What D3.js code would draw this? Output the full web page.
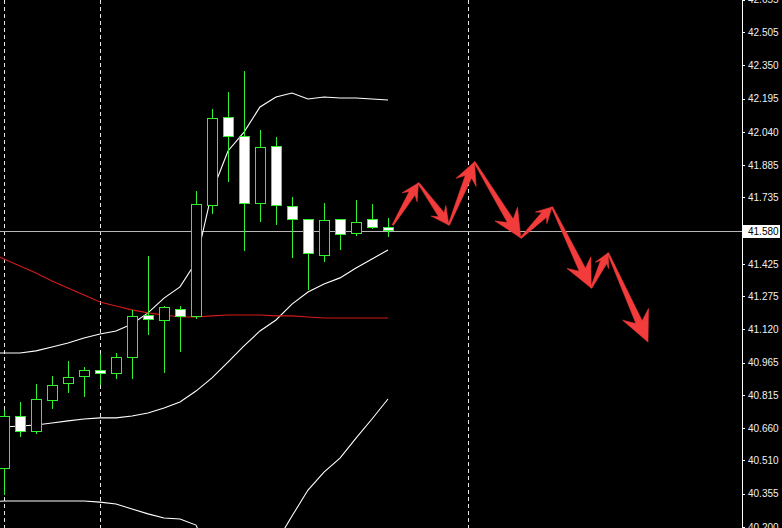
<!DOCTYPE html>
<html><head><meta charset="utf-8">
<script src="https://cdn.jsdelivr.net/npm/d3@7/dist/d3.min.js"></script>
<style>html,body{margin:0;padding:0;background:#000;overflow:hidden}svg{display:block}</style>
</head><body>
<svg id="chart" width="782" height="528"></svg>
<script>
// ---- data ----
const openP  = [40.475,40.717,40.647,40.791,40.871,40.903,40.931,40.917,40.992,41.187,41.164,41.215,41.183,41.699,42.109,42.021,41.709,41.974,41.695,41.634,41.467,41.634,41.569,41.634,41.597];
const highP  = [40.745,40.782,40.866,40.903,40.973,40.945,41.006,41.010,41.211,41.462,41.229,41.229,41.765,42.146,42.226,42.323,42.049,42.016,41.737,41.634,41.709,41.634,41.723,41.704,41.639];
const lowP   = [40.349,40.619,40.633,40.750,40.824,40.805,40.861,40.889,40.889,41.094,40.917,41.015,41.169,41.658,41.807,41.485,41.620,41.606,41.453,41.304,41.434,41.490,41.555,41.588,41.550];
const closeP = [40.717,40.647,40.796,40.861,40.899,40.931,40.917,40.992,41.183,41.169,41.224,41.183,41.704,42.105,42.021,41.709,41.970,41.699,41.634,41.476,41.630,41.564,41.620,41.597,41.583];
// indicator values, first value belongs to bar index -1
const upperBand  = [41.010,41.010,41.010,41.020,41.038,41.057,41.080,41.099,41.113,41.145,41.197,41.266,41.318,41.434,41.760,41.951,42.039,42.156,42.202,42.221,42.193,42.202,42.198,42.198,42.193,42.188];
const middleBand = [40.661,40.666,40.670,40.675,40.684,40.694,40.703,40.708,40.708,40.717,40.731,40.754,40.782,40.833,40.894,40.968,41.043,41.113,41.164,41.238,41.294,41.332,41.360,41.406,41.448,41.490];
const lowerBand  = [40.316,40.321,40.321,40.321,40.321,40.321,40.321,40.316,40.307,40.284,40.261,40.242,40.237,40.209,40.046,39.990,40.046,40.074,40.126,40.251,40.372,40.456,40.521,40.614,40.703,40.796];
const maRed      = [41.481,41.448,41.415,41.383,41.346,41.313,41.280,41.248,41.229,41.211,41.197,41.187,41.178,41.178,41.183,41.187,41.187,41.187,41.183,41.183,41.178,41.173,41.173,41.173,41.173,41.173];
const tickLabels = ["42.655","42.505","42.350","42.195","42.040","41.885","41.735","41.580","41.425","41.275","41.120","40.965","40.815","40.660","40.510","40.355","40.200"];
const currentPrice = 41.580;
const gridBars = [0, 6, 29];
// forecast zig-zag (bar index, price)
const arrowIdx   = [24.3, 25.9, 27.8, 29.4, 32.3, 34.25, 36.7, 37.75, 40.25];
const arrowPrice = [41.606, 41.802, 41.606, 41.900, 41.546, 41.690, 41.313, 41.476, 41.061];

// ---- layout ----
const W = 782, H = 528, axisX = 742;
const svg = d3.select("#chart");
svg.append("rect").attr("width", W).attr("height", H).attr("fill", "#000");

const x = d3.scaleLinear().domain([0, 40]).range([4, 644]);
const y = d3.scaleLinear().domain([40.200, 42.505]).range([527, 32]);

const plot = svg.append("g");
plot.append("clipPath").attr("id", "clip").append("rect").attr("width", axisX).attr("height", H);
const g = plot.append("g").attr("clip-path", "url(#clip)");

// vertical dashed separators
g.selectAll("line.grid").data(gridBars).join("line")
  .attr("x1", d => Math.round(x(d)) + 0.5).attr("x2", d => Math.round(x(d)) + 0.5)
  .attr("y1", 0).attr("y2", H)
  .attr("stroke", "#e8e8e8").attr("stroke-width", 1).attr("stroke-dasharray", "4,3")
  .attr("shape-rendering", "crispEdges");

// current price line
g.append("line")
  .attr("x1", 0).attr("x2", axisX)
  .attr("y1", Math.round(y(currentPrice)) + 0.5).attr("y2", Math.round(y(currentPrice)) + 0.5)
  .attr("stroke", "#b8b8b8").attr("stroke-width", 1).attr("shape-rendering", "crispEdges");

// indicator lines
const lineGen = d3.line().x((d, i) => x(i - 1)).y(d => y(d));
[[upperBand, "#ffffff"], [middleBand, "#ffffff"], [lowerBand, "#ffffff"], [maRed, "#d41a1a"]].forEach(([arr, col]) => {
  g.append("path").datum(arr).attr("d", lineGen)
    .attr("fill", "none").attr("stroke", col).attr("stroke-width", 1.1);
});

// candles
const green = "#33f033";
const bars = d3.range(openP.length).map(i => ({i, o: openP[i], h: highP[i], l: lowP[i], c: closeP[i]}));
const cg = g.append("g").attr("shape-rendering", "crispEdges");
cg.selectAll("line.wick").data(bars).join("line")
  .attr("x1", d => Math.round(x(d.i)) + 0.5).attr("x2", d => Math.round(x(d.i)) + 0.5)
  .attr("y1", d => Math.round(y(d.h))).attr("y2", d => Math.round(y(d.l)))
  .attr("stroke", green).attr("stroke-width", 1);
cg.selectAll("rect.body").data(bars).join("rect")
  .attr("x", d => Math.round(x(d.i)) - 4.5)
  .attr("width", 10)
  .attr("y", d => Math.round(y(Math.max(d.o, d.c))) + 0.5)
  .attr("height", d => Math.max(2, Math.round(Math.abs(y(d.o) - y(d.c)))))
  .attr("fill", d => d.c < d.o ? "#ffffff" : "#000000")
  .attr("stroke", green).attr("stroke-width", 1.2);

// forecast arrows
function arrowPoly(x0, y0, x1, y1) {
  const dx = x1 - x0, dy = y1 - y0, L = Math.hypot(dx, dy);
  const ux = dx / L, uy = dy / L, nx = -uy, ny = ux;
  const hl = 0.28 * L + 3, hw = 0.4 * hl + 2, sw = 3.4, tw = 0.7;
  const p = (a, b) => [x0 + ux * a + nx * b, y0 + uy * a + ny * b];
  return [p(0, tw), p(L - hl * 0.72, sw), p(L - hl, hw), p(L, 0), p(L - hl, -hw), p(L - hl * 0.72, -sw), p(0, -tw)];
}
const ag = g.append("g");
for (let k = 0; k < arrowIdx.length - 1; k++) {
  const pts = arrowPoly(x(arrowIdx[k]), y(arrowPrice[k]), x(arrowIdx[k + 1]), y(arrowPrice[k + 1]));
  ag.append("polygon").attr("points", pts.map(p => p.join(",")).join(" "))
    .attr("fill", "#f23b3b").attr("stroke", "#f23b3b").attr("stroke-width", 0.6).attr("stroke-linejoin", "round");
}

// right axis
const ax = svg.append("g");
ax.append("line").attr("x1", axisX + 0.5).attr("x2", axisX + 0.5).attr("y1", 0).attr("y2", H)
  .attr("stroke", "#ffffff").attr("stroke-width", 1).attr("shape-rendering", "crispEdges");
const axisGen = d3.axisRight(y).tickValues(tickLabels.map(Number)).tickFormat(d => d3.format(".3f")(d)).tickSize(3).tickPadding(3);
const axG = ax.append("g").attr("transform", `translate(${axisX},0)`).call(axisGen);
axG.select(".domain").remove();
axG.selectAll(".tick line").attr("stroke", "#ffffff").attr("shape-rendering", "crispEdges");
axG.selectAll(".tick text").attr("fill", "#f0f0f0").attr("font-family", "Liberation Sans, Arial, sans-serif").attr("font-size", 10);
// hide the regular label for the current price (drawn in its box)
axG.selectAll(".tick").filter(d => Math.abs(d - currentPrice) < 1e-6).select("text").remove();

// current price box
const cy = Math.round(y(currentPrice));
ax.append("rect").attr("x", axisX + 1).attr("y", cy - 6).attr("width", 37).attr("height", 13).attr("fill", "#ffffff");
ax.append("text").attr("x", axisX + 6).attr("y", cy + 0.5).attr("dy", "0.35em")
  .attr("font-family", "Liberation Sans, Arial, sans-serif").attr("font-size", 10).attr("fill", "#000")
  .text(d3.format(".3f")(currentPrice));
</script>
</body></html>
